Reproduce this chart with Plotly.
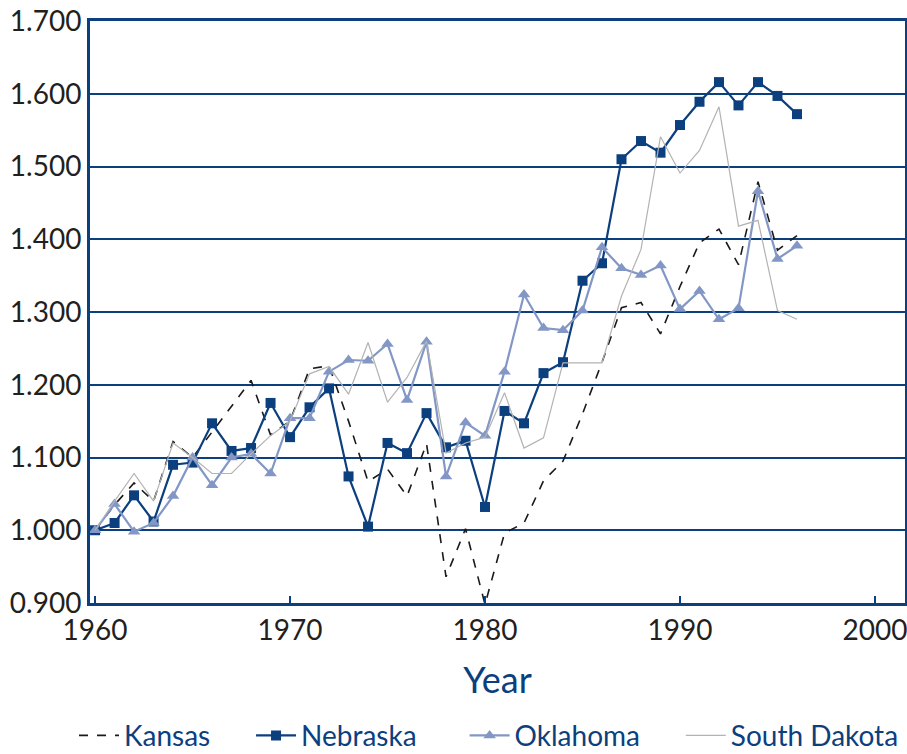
import plotly.graph_objects as go

# Anos 1960-1996
years = list(range(1960, 1997))

kansas = [1.000, 1.035, 1.065, 1.040, 1.122, 1.100, 1.135, 1.170, 1.206, 1.131,
          1.150, 1.222, 1.226, 1.150, 1.067, 1.084, 1.047, 1.119, 0.936, 1.002,
          0.898, 0.996, 1.010, 1.068, 1.095, 1.160, 1.231, 1.306, 1.313, 1.270,
          1.335, 1.395, 1.414, 1.365, 1.479, 1.385, 1.405]

nebraska = [1.000, 1.010, 1.048, 1.012, 1.090, 1.093, 1.147, 1.109, 1.113, 1.175,
            1.128, 1.169, 1.195, 1.074, 1.005, 1.120, 1.106, 1.161, 1.114, 1.123,
            1.032, 1.164, 1.147, 1.216, 1.231, 1.343, 1.367, 1.510, 1.535, 1.519,
            1.557, 1.589, 1.616, 1.584, 1.616, 1.597, 1.572]

oklahoma = [1.000, 1.036, 0.998, 1.010, 1.047, 1.100, 1.062, 1.100, 1.105, 1.078,
            1.154, 1.154, 1.218, 1.234, 1.233, 1.256, 1.179, 1.259, 1.074, 1.148,
            1.130, 1.218, 1.324, 1.278, 1.275, 1.302, 1.389, 1.360, 1.351, 1.364,
            1.304, 1.329, 1.290, 1.305, 1.466, 1.373, 1.391]

south_dakota = [1.000, 1.040, 1.078, 1.040, 1.120, 1.100, 1.078, 1.078, 1.105, 1.130,
                1.150, 1.215, 1.225, 1.187, 1.258, 1.176, 1.210, 1.260, 1.106, 1.120,
                1.128, 1.189, 1.113, 1.127, 1.230, 1.230, 1.230, 1.322, 1.386, 1.541,
                1.491, 1.522, 1.582, 1.418, 1.426, 1.302, 1.290]

y_ticks = [0.9, 1.0, 1.1, 1.2, 1.3, 1.4, 1.5, 1.6, 1.7]
x_ticks = [1960, 1970, 1980, 1990, 2000]

navy = "#0b3f7e"
light = "#8397c6"
grey = "#b3b3b3"
text_col = "#231f20"


def pad(n):
    # espaço extra entre os itens da legenda
    return "&nbsp;" * n


fig = go.Figure()

fig.add_trace(go.Scatter(
    x=years, y=kansas, name="Kansas" + pad(5), mode="lines",
    line=dict(color="#1a1a1a", width=1.6, dash="9px,9px"),
))
fig.add_trace(go.Scatter(
    x=years, y=nebraska, name="Nebraska" + pad(6), mode="lines+markers",
    line=dict(color=navy, width=2.2),
    marker=dict(symbol="square", size=10, color=navy),
))
fig.add_trace(go.Scatter(
    x=years, y=oklahoma, name="Oklahoma" + pad(5), mode="lines+markers",
    line=dict(color=light, width=2.2),
    marker=dict(symbol="triangle-up", size=11, color=light),
))
fig.add_trace(go.Scatter(
    x=years, y=south_dakota, name="South Dakota", mode="lines",
    line=dict(color=grey, width=1.2),
))

fig.update_layout(
    width=907,
    height=754,
    margin=dict(l=90, r=2, t=21, b=151, autoexpand=False),
    plot_bgcolor="white",
    paper_bgcolor="white",
    font=dict(family="Lato", size=28, color=text_col),
    legend=dict(
        orientation="h",
        x=-0.0196, y=-0.271, xanchor="left", yanchor="bottom",
        font=dict(size=28, color=navy),
        itemwidth=40,
        tracegroupgap=0,
    ),
)

fig.update_xaxes(
    range=[1959.74, 2001.54],
    tickvals=x_ticks,
    ticks="inside", ticklen=7, tickwidth=2, tickcolor=navy,
    showgrid=False, zeroline=False,
    showline=True, linewidth=3, linecolor=navy, mirror=True,
    title=dict(text="Year", font=dict(size=36, color=navy), standoff=24),
    tickfont=dict(size=28, color=text_col),
    ticklabeloverflow="allow",
    automargin=False,
)
fig.update_yaxes(
    range=[0.9, 1.7],
    tickvals=y_ticks,
    tickformat=".3f",
    showgrid=True, gridcolor=navy, gridwidth=2,
    zeroline=False,
    showline=True, linewidth=3, linecolor=navy, mirror=True,
    ticks="",
    tickfont=dict(size=28, color=text_col),
    ticklabeloverflow="allow",
    automargin=False,
)

# tira a margem padrão do body para a figura ocupar a janela inteira
fig.write_html(
    "out.html",
    config={"displayModeBar": False},
    post_script="document.body.style.margin='0';",
)
